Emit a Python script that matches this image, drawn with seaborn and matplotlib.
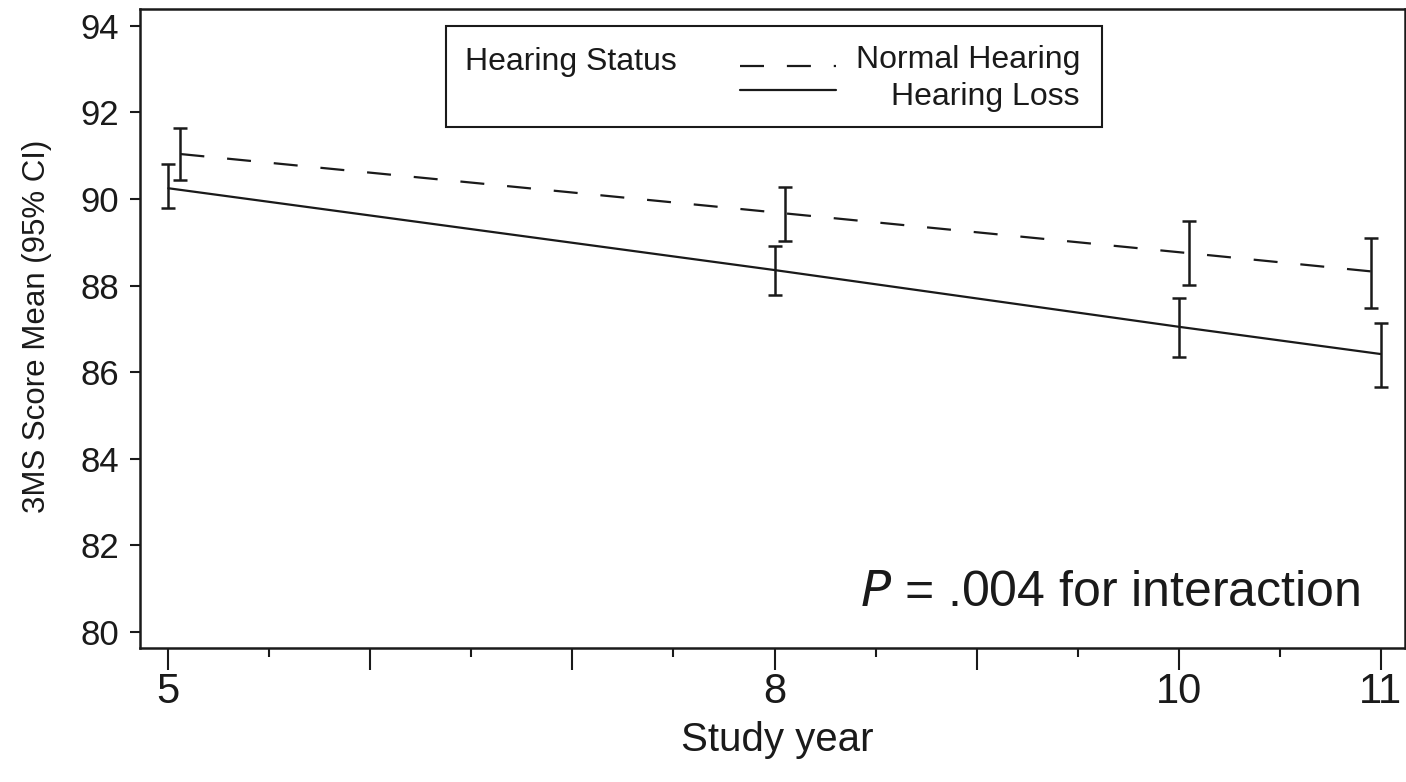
import numpy as np
import pandas as pd
import matplotlib
matplotlib.use("Agg")
import matplotlib.pyplot as plt
import seaborn as sns
from matplotlib.patches import Rectangle
from matplotlib.lines import Line2D

# ---------------- data ----------------
years = [5, 8, 10, 11]
groups = ["Normal Hearing", "Hearing Loss"]
nh_mean = [91.04, 89.67, 88.75, 88.33]
nh_lower = [90.44, 89.03, 88.02, 87.49]
nh_upper = [91.64, 90.27, 89.50, 89.10]
hl_mean = [90.25, 88.36, 87.05, 86.42]
hl_lower = [89.80, 87.79, 86.36, 85.65]
hl_upper = [90.81, 88.92, 87.72, 87.13]
xtick_values = [5, 8, 10, 11]
xtick_labels = ["5", "8", "10", "11"]
ytick_values = [80, 82, 84, 86, 88, 90, 92, 94]
legend_title = "Hearing Status"
annotation = "= .004 for interaction"

# ---------------- layout / style ----------------
nh_dodge = [0.06, 0.05, 0.05, -0.05]
hl_dodge = [0.0, 0.0, 0.0, 0.0]
ink = "#1a1a1a"
dash_pattern = (10.8, 10.3)

sns.set_style("ticks")
plt.rcParams["font.family"] = ["Liberation Sans", "DejaVu Sans"]
plt.rcParams["text.color"] = ink
plt.rcParams["axes.labelcolor"] = ink
plt.rcParams["xtick.color"] = ink
plt.rcParams["ytick.color"] = ink

frames = []
for g, mean, lo, hi, dodge in [
    (groups[0], nh_mean, nh_lower, nh_upper, nh_dodge),
    (groups[1], hl_mean, hl_lower, hl_upper, hl_dodge),
]:
    frames.append(pd.DataFrame({
        "year": years,
        "x": np.array(years, dtype=float) + np.array(dodge),
        "mean": mean, "lo": lo, "hi": hi, "group": g,
    }))
df = pd.concat(frames, ignore_index=True)

fig = plt.figure(figsize=(14.06, 7.82), dpi=100)
ax = fig.add_axes([140 / 1406, 1 - 648 / 782, 1265 / 1406, 639 / 782])

sns.lineplot(data=df, x="x", y="mean", style="group", style_order=groups,
             dashes={groups[0]: dash_pattern, groups[1]: ""},
             color=ink, linewidth=1.6, legend=False, estimator=None,
             sort=True, ax=ax)

for g in groups:
    d = df[df["group"] == g]
    ax.errorbar(d["x"], d["mean"],
                yerr=[d["mean"] - d["lo"], d["hi"] - d["mean"]],
                fmt="none", ecolor=ink, elinewidth=1.8, capsize=4.8,
                capthick=1.8, zorder=3)

ax.set_xlim(4.86, 11.12)
ax.set_ylim(79.63, 94.39)

major_x = list(range(5, 12))
ax.set_xticks(major_x)
ax.set_xticklabels([xtick_labels[xtick_values.index(v)] if v in xtick_values else ""
                    for v in major_x])
ax.set_xticks([v + 0.5 for v in range(5, 11)], minor=True)
ax.set_yticks(ytick_values)
ax.set_yticklabels([str(v) for v in ytick_values])

ax.tick_params(axis="x", which="major", length=16, width=1.5, labelsize=30, pad=1)
ax.tick_params(axis="x", which="minor", length=6.5, width=1.5)
ax.tick_params(axis="y", which="major", length=7.2, width=1.5, labelsize=25, pad=8)

for s in ax.spines.values():
    s.set_linewidth(1.8)
    s.set_color(ink)

ax.set_xlabel("Study year", fontsize=29)
ax.set_ylabel("3MS Score Mean (95% CI)", fontsize=22.5)
ax.xaxis.set_label_coords(0.5036, -0.115)
ax.yaxis.set_label_coords(-0.0696, 0.504)

# annotation
ax.text(0.9644, 0.0861, r"$\it{P}$ " + annotation, transform=ax.transAxes,
        ha="right", va="center", fontsize=36)

# legend box (table-like layout as in reference)
ax.add_patch(Rectangle((0.2419, 0.8153), 0.5186, 0.1581, transform=ax.transAxes,
                       fill=True, facecolor="white", edgecolor=ink, lw=1.5, zorder=5))
ax.text(0.2569, 0.917, legend_title, transform=ax.transAxes, ha="left",
        va="center", fontsize=23, zorder=6)
ax.add_line(Line2D([0.4743, 0.5502], [0.9108, 0.9108], transform=ax.transAxes,
                   color=ink, lw=1.6, dashes=dash_pattern, zorder=6))
ax.add_line(Line2D([0.4743, 0.5502], [0.8732, 0.8732], transform=ax.transAxes,
                   color=ink, lw=1.6, zorder=6))
ax.text(0.743, 0.9202, groups[0], transform=ax.transAxes, ha="right",
        va="center", fontsize=23, zorder=6)
ax.text(0.743, 0.8623, groups[1], transform=ax.transAxes, ha="right",
        va="center", fontsize=23, zorder=6)

fig.savefig("out.png", dpi=100, facecolor="white")
